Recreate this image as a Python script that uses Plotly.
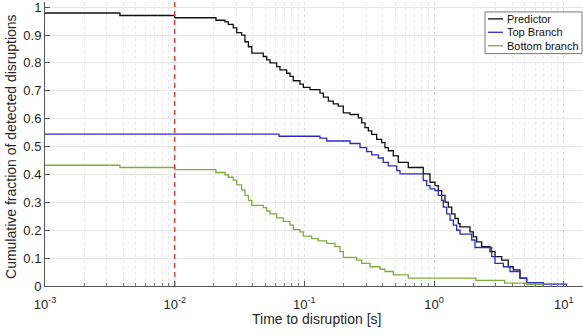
import plotly.graph_objects as go

# ---------------- data ----------------
pred_x = [0.001, 0.00378, 0.01, 0.0208, 0.0244, 0.0259, 0.0283, 0.0301, 0.0328, 0.0348, 0.0370,
          0.0393, 0.0482, 0.0512, 0.0543, 0.0611, 0.0648, 0.0730, 0.0774, 0.0821, 0.0924, 0.0981,
          0.1104, 0.1318, 0.140, 0.153, 0.167, 0.1825, 0.1995, 0.2247, 0.2606, 0.2767, 0.2932,
          0.3112, 0.3304, 0.3608, 0.3944, 0.4179, 0.4436, 0.4844, 0.5297, 0.6324, 0.825, 0.930,
          1.016, 1.077, 1.144, 1.213, 1.287, 1.367, 1.449, 1.537, 1.584, 1.891, 2.006, 2.131,
          2.328, 2.698, 2.949, 3.321, 3.733, 4.08, 4.59, 5.17, 6.95]
pred_y = [0.979, 0.970, 0.962, 0.953, 0.947, 0.938, 0.926, 0.909, 0.900, 0.876, 0.858,
          0.835, 0.823, 0.811, 0.800, 0.787, 0.775, 0.763, 0.752, 0.736, 0.724, 0.712,
          0.704, 0.692, 0.677, 0.663, 0.653, 0.645, 0.621, 0.615, 0.603, 0.585, 0.568,
          0.556, 0.544, 0.526, 0.514, 0.496, 0.485, 0.467, 0.443, 0.425, 0.402, 0.372,
          0.360, 0.342, 0.325, 0.301, 0.283, 0.259, 0.242, 0.224, 0.212, 0.194, 0.176, 0.158,
          0.141, 0.123, 0.105, 0.093, 0.069, 0.058, 0.028, 0.012, 0.0]

top_x = [0.001, 0.0637, 0.1318, 0.1486, 0.2247, 0.2685, 0.302, 0.3304, 0.3716, 0.4055, 0.4436,
         0.5152, 0.546, 0.825, 0.877, 0.930, 1.016, 1.077, 1.144, 1.178, 1.250, 1.327, 1.407,
         1.493, 1.584, 1.950, 2.067, 2.780, 2.949, 3.42, 3.85, 4.59, 5.17, 6.95, 10.5]
top_y = [0.545, 0.537, 0.530, 0.520, 0.511, 0.496, 0.482, 0.470, 0.459, 0.443, 0.431,
         0.414, 0.402, 0.378, 0.360, 0.348, 0.342, 0.325, 0.307, 0.283, 0.259, 0.236, 0.218,
         0.200, 0.186, 0.165, 0.138, 0.105, 0.081, 0.069, 0.052, 0.028, 0.012, 0.007, 0.0]

bot_x = [0.001, 0.00378, 0.01, 0.0208, 0.0244, 0.0259, 0.0283, 0.0301, 0.0328, 0.0348, 0.0370,
         0.0393, 0.0482, 0.0512, 0.0543, 0.0611, 0.0687, 0.0774, 0.0821, 0.0924, 0.0981, 0.1138,
         0.128, 0.1486, 0.172, 0.188, 0.1995, 0.253, 0.2767, 0.321, 0.383, 0.4179, 0.4844,
         0.6324, 2.1, 3.5, 5.17, 6.95]
bot_y = [0.433, 0.425, 0.417, 0.407, 0.399, 0.390, 0.380, 0.363, 0.345, 0.325, 0.307,
         0.289, 0.281, 0.269, 0.259, 0.244, 0.232, 0.218, 0.202, 0.194, 0.179, 0.170,
         0.162, 0.153, 0.141, 0.123, 0.103, 0.093, 0.081, 0.069, 0.060, 0.052, 0.040,
         0.028, 0.020, 0.010, 0.005, 0.0]

series_names = ["Predictor", "Top Branch", "Bottom branch"]
threshold_x = 0.01

x_tick_vals = [0.001, 0.01, 0.1, 1, 10]
x_tick_text = ["10<sup>-3</sup>", "10<sup>-2</sup>", "10<sup>-1</sup>", "10<sup>0</sup>", "10<sup>1</sup>"]
y_tick_vals = [0, 0.1, 0.2, 0.3, 0.4, 0.5, 0.6, 0.7, 0.8, 0.9, 1.0]
y_tick_text = ["0", "0.1", "0.2", "0.3", "0.4", "0.5", "0.6", "0.7", "0.8", "0.9", "1"]

x_title = "Time to disruption [s]"
y_title = "Cumulative fraction of detected disruptions"

# ---------------- style ----------------
FONT = "Liberation Sans, Arial, Helvetica, sans-serif"
c_pred = "#111111"
c_top = "#2a2ad0"
c_bot = "#7fae3a"
c_red = "#e0403a"
YMAX = 1.0185
XR = [-3, 1.148]

fig = go.Figure()
for xs, ys, name, col in [(pred_x, pred_y, series_names[0], c_pred),
                          (top_x, top_y, series_names[1], c_top),
                          (bot_x, bot_y, series_names[2], c_bot)]:
    fig.add_trace(go.Scatter(x=xs, y=ys, mode="lines", line=dict(shape="hv", color=col, width=1.3),
                             name=name, showlegend=False, hoverinfo="skip"))

fig.add_trace(go.Scatter(x=[threshold_x, threshold_x], y=[0, YMAX], mode="lines",
                         line=dict(color=c_red, width=1.5, dash="5px,4px"), showlegend=False,
                         hoverinfo="skip"))

minor_vals = [m * 10.0 ** e for e in range(-3, 2) for m in range(2, 10)]

fig.update_xaxes(type="log", range=XR, tickvals=x_tick_vals, ticktext=x_tick_text,
                 showline=True, linecolor="#555555", linewidth=1, mirror=False,
                 ticks="inside", ticklen=5, tickcolor="#555555", ticklabeloverflow="allow",
                 ticklabelstandoff=6,
                 showgrid=True, gridcolor="#dedede", griddash="dot", gridwidth=1,
                 minor=dict(tickvals=minor_vals, ticks="inside", ticklen=3, tickcolor="#777777",
                            showgrid=True, gridcolor="#e8e8e8", griddash="dot", gridwidth=1),
                 tickfont=dict(family=FONT, size=13, color="#262626"), zeroline=False)
fig.update_yaxes(range=[0, YMAX], tickvals=y_tick_vals, ticktext=y_tick_text,
                 showline=True, linecolor="#555555", linewidth=1, mirror=False,
                 ticks="inside", ticklen=5, tickcolor="#555555", ticklabeloverflow="allow",
                 showgrid=True, gridcolor="#e6e6e6", gridwidth=1,
                 tickfont=dict(family=FONT, size=13, color="#262626"), zeroline=False)

# legend (drawn manually to match the compact MATLAB legend)
leg_x0, leg_x1, leg_y0, leg_y1 = 485, 582, 10, 52
W, H = 583, 334
L, B, T, R = 45, 48, 0, 0
pw, ph = W - L - R, H - B - T

def px2paper_x(px):
    return (px - L) / pw

def px2paper_y(py):
    return (H - B - py) / ph

shapes = [dict(type="rect", xref="paper", yref="paper",
               x0=px2paper_x(leg_x0), x1=px2paper_x(leg_x1),
               y0=px2paper_y(leg_y1), y1=px2paper_y(leg_y0),
               line=dict(color="#777777", width=1), fillcolor="white", layer="above")]
annotations = []
for i, (name, col) in enumerate(zip(series_names, [c_pred, c_top, c_bot])):
    yy = 17 + i * 13.5
    shapes.append(dict(type="line", xref="paper", yref="paper",
                       x0=px2paper_x(488), x1=px2paper_x(503),
                       y0=px2paper_y(yy), y1=px2paper_y(yy),
                       line=dict(color=col, width=1.3), layer="above"))
    annotations.append(dict(x=px2paper_x(505), y=px2paper_y(yy), xref="paper", yref="paper",
                            text=name, showarrow=False, xanchor="left", yanchor="middle",
                            font=dict(family=FONT, size=11, color="#111111")))

annotations.append(dict(x=(316 - L) / pw, y=px2paper_y(319), xref="paper", yref="paper",
                        text=x_title, showarrow=False, xanchor="center", yanchor="middle",
                        font=dict(family=FONT, size=14, color="#262626")))
annotations.append(dict(x=px2paper_x(11), y=px2paper_y(146), xref="paper", yref="paper",
                        text=y_title, showarrow=False, xanchor="center", yanchor="middle",
                        textangle=-90, font=dict(family=FONT, size=14, color="#262626")))

fig.update_layout(width=W, height=H, margin=dict(l=L, r=R, t=T, b=B),
                  paper_bgcolor="white", plot_bgcolor="white", showlegend=False,
                  shapes=shapes, annotations=annotations, hovermode=False,
                  font=dict(family=FONT, size=13, color="#262626"))

fig.write_html("out.html", config={"displayModeBar": False, "staticPlot": True},
               post_script="document.body.style.margin='0px';document.body.style.overflow='hidden';")
